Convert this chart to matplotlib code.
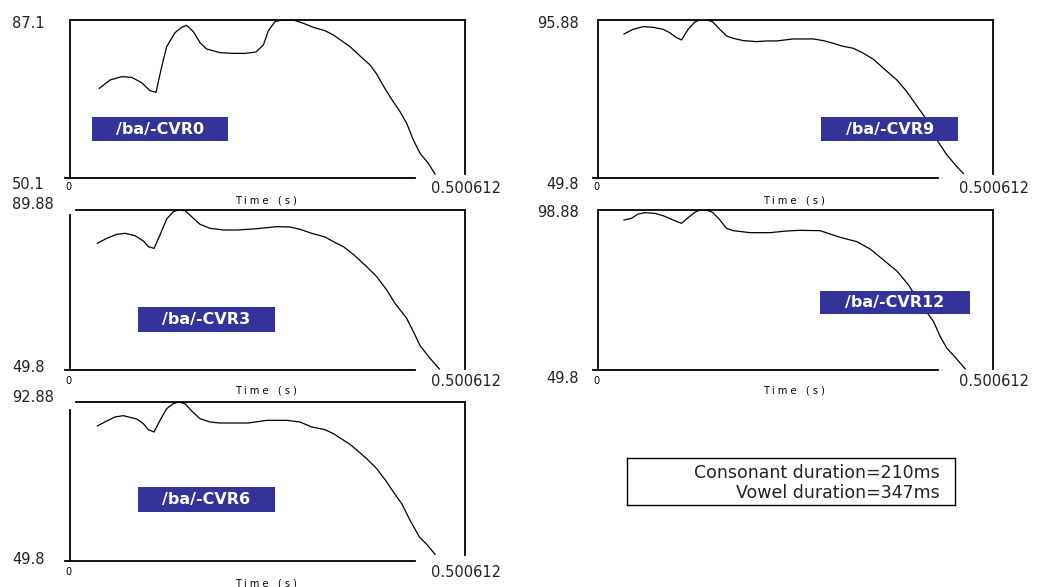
import matplotlib
matplotlib.use("Agg")
import matplotlib.pyplot as plt
from matplotlib.patches import Rectangle

# ---------------- data ----------------
t_max = 0.500612
t_max_label = "0.500612"

labels = ["/ba/-CVR0", "/ba/-CVR9", "/ba/-CVR3", "/ba/-CVR12", "/ba/-CVR6"]
y_min = [50.1, 49.8, 49.8, 49.8, 49.8]
y_max = [87.1, 95.88, 89.88, 98.88, 92.88]
y_min_labels = ["50.1", "49.8", "49.8", "49.8", "49.8"]
y_max_labels = ["87.1", "95.88", "89.88", "98.88", "92.88"]

t_cvr0 = [0.0372, 0.0507, 0.0655, 0.0782, 0.0908, 0.1014, 0.1090, 0.1162, 0.1225,
          0.1331, 0.1415, 0.1479, 0.1563, 0.1648, 0.1732, 0.1901, 0.2070, 0.2218,
          0.2358, 0.2451, 0.2514, 0.2598, 0.2683, 0.2831, 0.2958, 0.3084, 0.3232,
          0.3338, 0.3549, 0.3676, 0.3803, 0.3887, 0.3972, 0.4077, 0.4183, 0.4267,
          0.4352, 0.4436, 0.4542, 0.4626]
v_cvr0 = [71.10, 73.05, 73.83, 73.67, 72.42, 70.55, 70.16, 76.17, 80.85,
          84.13, 85.38, 85.85, 84.37, 81.79, 80.31, 79.45, 79.29, 79.29,
          79.61, 81.25, 84.60, 86.71, 87.10, 87.10, 86.32, 85.38, 84.60,
          83.59, 80.85, 78.67, 76.56, 74.45, 71.64, 68.52, 65.63, 62.90,
          59.00, 55.88, 53.53, 51.04]

t_cvr9 = [0.0330, 0.0444, 0.0571, 0.0698, 0.0825, 0.0909, 0.0994, 0.1058, 0.1142,
          0.1227, 0.1290, 0.1375, 0.1451, 0.1544, 0.1629, 0.1713, 0.1840, 0.2009,
          0.2136, 0.2263, 0.2475, 0.2729, 0.2855, 0.2982, 0.3088, 0.3236, 0.3363,
          0.3490, 0.3617, 0.3786, 0.3913, 0.4040, 0.4167, 0.4293, 0.4420, 0.4526,
          0.4632]
v_cvr9 = [91.81, 93.16, 93.94, 93.75, 93.16, 92.19, 90.74, 90.06, 93.16,
          95.30, 95.88, 95.88, 95.40, 93.16, 91.22, 90.55, 89.87, 89.58,
          89.77, 89.77, 90.35, 90.35, 89.87, 89.09, 88.31, 87.63, 86.18,
          84.43, 81.81, 78.42, 75.02, 70.85, 66.78, 60.96, 56.59, 53.68,
          51.06]

t_cvr3 = [0.0346, 0.0465, 0.0592, 0.0697, 0.0824, 0.0930, 0.0993, 0.1065, 0.1141,
          0.1225, 0.1310, 0.1373, 0.1458, 0.1542, 0.1648, 0.1775, 0.1944, 0.2113,
          0.2324, 0.2493, 0.2620, 0.2789, 0.2915, 0.3063, 0.3232, 0.3338, 0.3465,
          0.3591, 0.3760, 0.3887, 0.4014, 0.4119, 0.4267, 0.4373, 0.4436, 0.4563,
          0.4681]
v_cvr3 = [81.53, 82.78, 83.78, 84.04, 83.45, 82.11, 80.70, 80.28, 83.62,
          87.63, 89.46, 89.88, 89.71, 88.21, 86.29, 85.29, 84.87, 84.87,
          85.12, 85.45, 85.71, 85.62, 85.04, 84.04, 83.12, 81.95, 80.70,
          78.77, 75.69, 73.18, 69.84, 66.50, 62.74, 58.57, 55.90, 52.72,
          50.05]

t_cvr12 = [0.0330, 0.0423, 0.0508, 0.0592, 0.0719, 0.0825, 0.0952, 0.1058, 0.1142,
           0.1227, 0.1291, 0.1375, 0.1452, 0.1545, 0.1629, 0.1714, 0.1926, 0.2179,
           0.2391, 0.2560, 0.2814, 0.2941, 0.3068, 0.3280, 0.3449, 0.3618, 0.3788,
           0.3936, 0.4042, 0.4147, 0.4253, 0.4338, 0.4422, 0.4528, 0.4655]
v_cvr12 = [95.81, 96.32, 97.65, 98.06, 97.86, 97.14, 95.81, 94.79, 96.53,
           98.16, 98.88, 98.88, 98.16, 95.81, 93.26, 92.54, 91.93, 91.93,
           92.44, 92.64, 92.54, 91.52, 90.50, 89.17, 86.92, 83.54, 80.17,
           75.87, 71.78, 68.21, 64.63, 60.02, 56.45, 53.69, 50.11]

t_cvr6 = [0.0346, 0.0465, 0.0570, 0.0676, 0.0845, 0.0930, 0.0993, 0.1065, 0.1141,
          0.1225, 0.1310, 0.1373, 0.1458, 0.1542, 0.1648, 0.1775, 0.1901, 0.2070,
          0.2260, 0.2493, 0.2746, 0.2915, 0.3063, 0.3232, 0.3338, 0.3549, 0.3760,
          0.3887, 0.4014, 0.4119, 0.4204, 0.4310, 0.4428, 0.4521, 0.4626]
v_cvr6 = [86.38, 87.73, 88.82, 89.18, 88.27, 87.01, 85.38, 84.75, 87.91,
          91.07, 92.43, 92.88, 92.43, 90.44, 88.36, 87.46, 87.19, 87.19,
          87.19, 87.91, 87.91, 87.46, 86.11, 85.38, 84.30, 81.41, 77.53,
          74.82, 71.21, 67.86, 65.34, 60.82, 56.31, 54.32, 51.61]

times = [t_cvr0, t_cvr9, t_cvr3, t_cvr12, t_cvr6]
values = [v_cvr0, v_cvr9, v_cvr3, v_cvr12, v_cvr6]

info_lines = ["Consonant duration=210ms", "Vowel duration=347ms"]

# ---------------- layout ----------------
W, H = 1039, 587
fig = plt.figure(figsize=(W / 100, H / 100), dpi=100)
fig.patch.set_facecolor("white")

def px_rect(x0, y0, x1, y1):
    return [x0 / W, 1 - y1 / H, (x1 - x0) / W, (y1 - y0) / H]

panels = [
    dict(rect=(70, 20, 465, 178), box=(0.055, 0.40, 0.234, 0.386), side="L",
         ylab=(0.975, -0.038), ls_top=1.0, top_start=0.0, rs_bot=0.025, bl=(-0.013, 0.873),
         tlab_y=-0.06, time_y=-0.14),
    dict(rect=(598, 20, 993, 178), box=(0.565, 0.912, 0.234, 0.386), side="R",
         ylab=(0.981, -0.038), ls_top=1.0, top_start=0.0, rs_bot=0.025, bl=(-0.013, 0.861),
         tlab_y=-0.06, time_y=-0.14),
    dict(rect=(70, 210, 465, 370), box=(0.172, 0.519, 0.239, 0.394), side="L",
         ylab=(1.0375, 0.0125), ls_top=0.969, top_start=0.015, rs_bot=0.006, bl=(-0.013, 0.873),
         tlab_y=-0.07, time_y=-0.13),
    dict(rect=(598, 210, 993, 370), box=(0.562, 0.942, 0.348, 0.494), side="R",
         ylab=(0.9875, -0.056), ls_top=1.0, top_start=0.0, rs_bot=0.006, bl=(-0.013, 0.861),
         tlab_y=-0.07, time_y=-0.13),
    dict(rect=(70, 402, 465, 561), box=(0.172, 0.519, 0.308, 0.465), side="L",
         ylab=(1.026, 0.011), ls_top=0.948, top_start=0.015, rs_bot=0.036, bl=(-0.013, 0.873),
         tlab_y=-0.07, time_y=-0.14),
]

box_color = "#333399"

for i, p in enumerate(panels):
    ax = fig.add_axes(px_rect(*p["rect"]))
    ax.plot(times[i], values[i], color="black", lw=0.9, solid_joinstyle="round")
    ax.set_xlim(0, t_max)
    ax.set_ylim(y_min[i], y_max[i])
    ax.set_xticks([])
    ax.set_yticks([])
    for s in ax.spines.values():
        s.set_visible(False)
    ax.patch.set_alpha(0)
    tr = ax.transAxes
    lw = 1.3
    ax.plot([0, 0], [0, p["ls_top"]], color="black", lw=lw, transform=tr, clip_on=False)
    ax.plot([p["top_start"], 1], [1, 1], color="black", lw=lw, transform=tr, clip_on=False)
    ax.plot([1, 1], [p["rs_bot"], 1], color="black", lw=lw, transform=tr, clip_on=False)
    ax.plot(list(p["bl"]), [0, 0], color="black", lw=lw, transform=tr, clip_on=False)

    # y labels
    x0, y0, x1, y1 = p["rect"]
    if p["side"] == "L":
        lx = (12 - x0) / (x1 - x0)
        ha = "left"
    else:
        lx = (579 - x0) / (x1 - x0)
        ha = "right"
    ax.text(lx, p["ylab"][0], y_max_labels[i], transform=tr, ha=ha, va="center",
            fontsize=10.5, color="#222222")
    ax.text(lx, p["ylab"][1], y_min_labels[i], transform=tr, ha=ha, va="center",
            fontsize=10.5, color="#222222")

    # time labels
    ax.text(-0.005, p["tlab_y"], "0", transform=tr, ha="center", va="center", fontsize=7)
    ax.text(0.915, p["tlab_y"] - 0.005, t_max_label, transform=tr, ha="left", va="center",
            fontsize=10.5, color="#222222")
    ax.text(0.497, p["time_y"], "T i m e   ( s )", transform=tr, ha="center", va="center",
            fontsize=7)

    # label box
    bx0, bx1, by0, by1 = p["box"]
    ax.add_patch(Rectangle((bx0, by0), bx1 - bx0, by1 - by0, transform=tr,
                           facecolor=box_color, edgecolor="none", clip_on=False, zorder=3))
    ax.text((bx0 + bx1) / 2, (by0 + by1) / 2, labels[i], transform=tr, ha="center",
            va="center", fontsize=11.5, fontweight="bold", color="white", zorder=4)

# info box
info_ax = fig.add_axes(px_rect(627, 458, 955, 505))
info_ax.set_xticks([])
info_ax.set_yticks([])
for s in info_ax.spines.values():
    s.set_linewidth(1.0)
    s.set_color("black")
info_ax.text(0.955, 0.68, info_lines[0], transform=info_ax.transAxes, ha="right",
             va="center", fontsize=12.5, color="#222222")
info_ax.text(0.955, 0.26, info_lines[1], transform=info_ax.transAxes, ha="right",
             va="center", fontsize=12.5, color="#222222")

fig.savefig("out.png", dpi=100, facecolor="white")
